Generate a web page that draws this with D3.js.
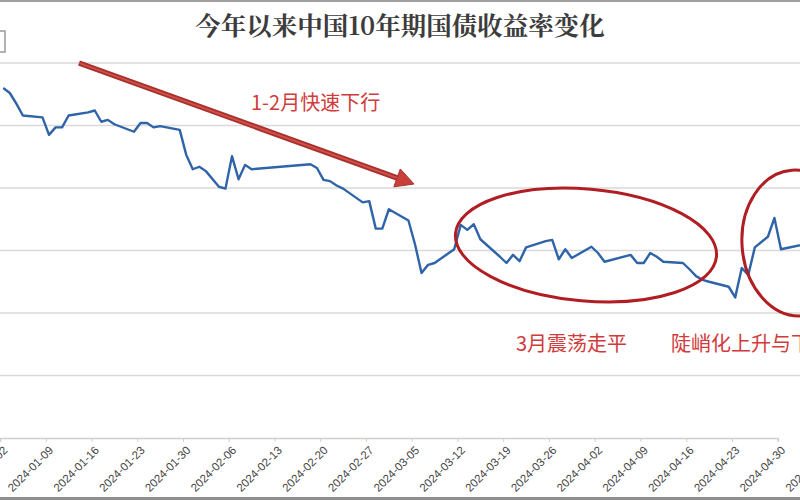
<!DOCTYPE html>
<html>
<head>
<meta charset="utf-8">
<script src="https://d3js.org/d3.v7.min.js"></script>
<style>
  body { margin: 0; background: #ffffff; }
  svg { display: block; }
</style>
</head>
<body>
<div id="vis1"></div>
<script>
// chart data
const DATES = [
  "2024-01-02","2024-01-03","2024-01-04","2024-01-05","2024-01-08","2024-01-09","2024-01-10",
  "2024-01-11","2024-01-12","2024-01-15","2024-01-16","2024-01-17","2024-01-18","2024-01-19",
  "2024-01-22","2024-01-23","2024-01-24","2024-01-25","2024-01-26","2024-01-29","2024-01-30",
  "2024-01-31","2024-02-01","2024-02-02","2024-02-04","2024-02-05","2024-02-06","2024-02-07",
  "2024-02-08","2024-02-09","2024-02-18","2024-02-19","2024-02-20","2024-02-21","2024-02-22",
  "2024-02-23","2024-02-26","2024-02-27","2024-02-28","2024-02-29","2024-03-01","2024-03-04",
  "2024-03-05","2024-03-06","2024-03-07","2024-03-08","2024-03-11","2024-03-12","2024-03-13",
  "2024-03-14","2024-03-15","2024-03-18","2024-03-19","2024-03-20","2024-03-21","2024-03-22",
  "2024-03-25","2024-03-26","2024-03-27","2024-03-28","2024-03-29","2024-04-01","2024-04-02",
  "2024-04-03","2024-04-07","2024-04-08","2024-04-09","2024-04-10","2024-04-11","2024-04-12",
  "2024-04-15","2024-04-16","2024-04-17","2024-04-18","2024-04-19","2024-04-22","2024-04-23",
  "2024-04-24","2024-04-25","2024-04-26","2024-04-28","2024-04-29","2024-04-30","2024-05-06"
];
const YIELDS = [
  2.560,2.552,2.535,2.516,2.513,2.485,2.497,
  2.497,2.516,2.521,2.524,2.506,2.509,2.502,
  2.490,2.504,2.504,2.497,2.499,2.493,2.453,
  2.430,2.434,2.427,2.402,2.399,2.451,2.414,
  2.437,2.430,2.438,2.432,2.413,2.411,2.404,
  2.399,2.377,2.379,2.335,2.335,2.366,2.348,
  2.310,2.264,2.277,2.280,2.302,2.341,2.333,
  2.342,2.318,2.290,2.280,2.293,2.283,2.305,
  2.315,2.317,2.286,2.302,2.288,2.306,2.296,
  2.282,2.293,2.280,2.280,2.296,2.290,2.282,
  2.280,2.270,2.259,2.253,2.250,2.242,2.225,
  2.272,2.261,2.305,2.322,2.352,2.302,2.315
];
const X_TICKS = [
  "2024-01-02","2024-01-09","2024-01-16","2024-01-23","2024-01-30","2024-02-06","2024-02-13",
  "2024-02-20","2024-02-27","2024-03-05","2024-03-12","2024-03-19","2024-03-26","2024-04-02",
  "2024-04-09","2024-04-16","2024-04-23","2024-04-30","2024-05-07"
];
const Y_TICKS = [2.0, 2.1, 2.2, 2.3, 2.4, 2.5, 2.6];

const TITLE = "今年以来中国10年期国债收益率变化";
const NOTE_1 = "1-2月快速下行";
const NOTE_2 = "3月震荡走平";
const NOTE_3 = "陡峭化上升与下行";

// frame
const FRAME_HEIGHT = 500;
const FRAME_WIDTH = 800;

const FRAME1 = d3.select("#vis1")
                  .append("svg")
                    .attr("height", FRAME_HEIGHT)
                    .attr("width", FRAME_WIDTH)
                    .attr("class", "frame");

const parse = d3.timeParse("%Y-%m-%d");

// scales: the date axis in the picture is a calendar axis (6.5px per day)
const X_SCALE = d3.scaleTime()
                  .domain([parse("2024-01-02"), parse("2024-04-30")])
                  .range([0, 777.7]);

const Y_SCALE = d3.scaleLinear()
                  .domain([2.0, 2.6])
                  .range([438, 63]);

// grid lines
FRAME1.append("g")
  .selectAll("line")
  .data(Y_TICKS.slice(1))
  .enter()
  .append("line")
    .attr("x1", 0)
    .attr("x2", FRAME_WIDTH)
    .attr("y1", (d) => Y_SCALE(d))
    .attr("y2", (d) => Y_SCALE(d))
    .attr("stroke", "#d9d9d9")
    .attr("stroke-width", 1.3);

// x axis
const xAxis = FRAME1.append("g")
  .attr("transform", "translate(0," + Y_SCALE(2.0) + ")")
  .call(d3.axisBottom(X_SCALE)
          .tickValues(X_TICKS.map(parse))
          .tickSize(4)
          .tickFormat(d3.timeFormat("%Y-%m-%d")));

xAxis.select(".domain").attr("stroke", "#d0d0d0").attr("stroke-width", 1.5);
xAxis.selectAll(".tick line").attr("stroke", "#d0d0d0");
xAxis.selectAll(".tick text")
  .attr("fill", "#454545")
  .attr("font-family", "'Liberation Sans', Arial, sans-serif")
  .attr("font-size", "11.5px")
  .attr("text-anchor", "end")
  .attr("dy", "0.35em")
  .attr("transform", "translate(5,10) rotate(-45)")
  .attr("y", 0);

// the yield line (points sit in the middle of their day, like the source)
const rows = DATES.map((d, i) => ({date: d3.timeHour.offset(parse(d), 12), value: YIELDS[i]}));

FRAME1.append("path")
  .datum(rows)
  .attr("fill", "none")
  .attr("stroke", "#2f64a8")
  .attr("stroke-width", 2.4)
  .attr("stroke-linejoin", "round")
  .attr("d", d3.line()
                .x((d) => X_SCALE(d.date))
                .y((d) => Y_SCALE(d.value)));

// title
FRAME1.append("text")
  .attr("x", 400)
  .attr("y", 35)
  .attr("text-anchor", "middle")
  .attr("font-family", "'Noto Serif CJK SC', 'Noto Sans CJK SC', serif")
  .attr("font-weight", "bold")
  .attr("font-size", "25.5px")
  .attr("fill", "#3c3c3c")
  .text(TITLE);

// red arrow
const ax1 = 79, ay1 = 63, ax2 = 414, ay2 = 184;
const len = Math.hypot(ax2 - ax1, ay2 - ay1);
const ux = (ax2 - ax1) / len, uy = (ay2 - ay1) / len;
const headL = 18, headW = 9.5;
const bx = ax2 - ux * headL, by = ay2 - uy * headL;

FRAME1.append("line")
  .attr("x1", ax1).attr("y1", ay1)
  .attr("x2", bx + ux * 2).attr("y2", by + uy * 2)
  .attr("stroke", "#a9302c")
  .attr("stroke-width", 5.5);
FRAME1.append("line")
  .attr("x1", ax1).attr("y1", ay1)
  .attr("x2", bx + ux * 2).attr("y2", by + uy * 2)
  .attr("stroke", "#d0504a")
  .attr("stroke-width", 1.8);
FRAME1.append("polygon")
  .attr("points", [
    [ax2, ay2],
    [bx - uy * headW, by + ux * headW],
    [bx + uy * headW, by - ux * headW]
  ].map((p) => p.join(",")).join(" "))
  .attr("fill", "#c9403b")
  .attr("stroke", "#a9302c")
  .attr("stroke-width", 1);

// ellipses
FRAME1.append("ellipse")
  .attr("cx", 586).attr("cy", 245)
  .attr("rx", 131).attr("ry", 56)
  .attr("transform", "rotate(5,586,245)")
  .attr("fill", "none")
  .attr("stroke", "#b01e23")
  .attr("stroke-width", 3);

FRAME1.append("ellipse")
  .attr("cx", 797).attr("cy", 243)
  .attr("rx", 55).attr("ry", 73)
  .attr("transform", "rotate(-4,797,243)")
  .attr("fill", "none")
  .attr("stroke", "#b01e23")
  .attr("stroke-width", 3);

// notes
const notes = [
  {t: NOTE_1, x: 251, y: 110},
  {t: NOTE_2, x: 516, y: 351},
  {t: NOTE_3, x: 671, y: 351}
];
FRAME1.selectAll(".note")
  .data(notes)
  .enter()
  .append("text")
    .attr("class", "note")
    .attr("x", (d) => d.x)
    .attr("y", (d) => d.y)
    .attr("font-family", "'Noto Sans CJK SC', sans-serif")
    .attr("font-size", "20px")
    .attr("fill", "#d13b3b")
    .text((d) => d.t);

// leftover bits of the screenshot: a cut-off box, top and bottom bands
FRAME1.append("path")
  .attr("d", "M0,31 H5 V52 H0")
  .attr("fill", "none")
  .attr("stroke", "#9a9a9a")
  .attr("stroke-width", 1.5);

FRAME1.append("rect")
  .attr("x", 0).attr("y", 0)
  .attr("width", FRAME_WIDTH).attr("height", 2)
  .attr("fill", "#a0a0a0");

FRAME1.append("rect")
  .attr("x", 0).attr("y", 497)
  .attr("width", FRAME_WIDTH).attr("height", 3)
  .attr("fill", "#8f8f8f");
</script>
</body>
</html>
